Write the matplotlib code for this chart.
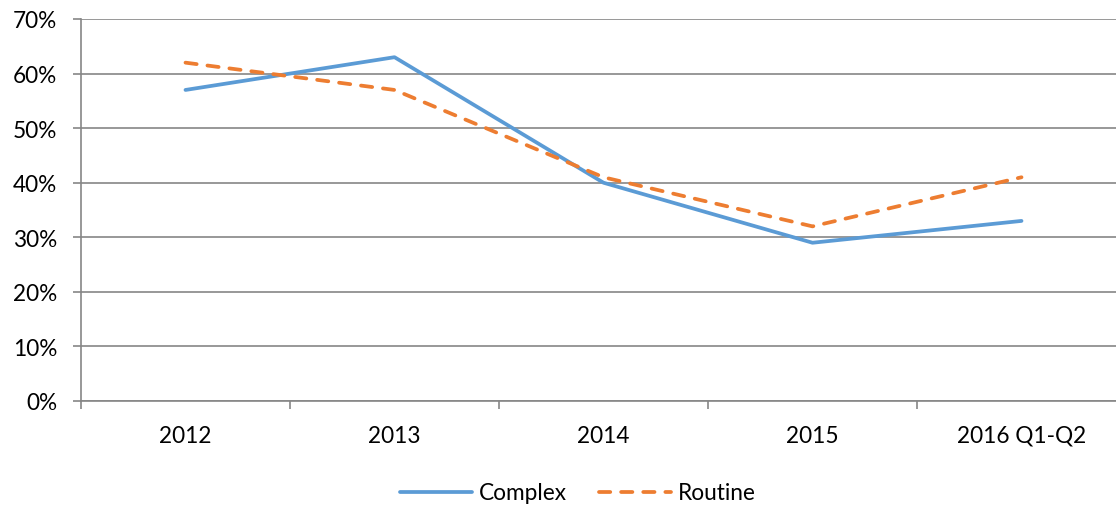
import matplotlib
matplotlib.use("Agg")
import matplotlib.pyplot as plt
from matplotlib.ticker import FixedLocator, PercentFormatter

plt.rcParams['font.family'] = ['Lato', 'DejaVu Sans']

YEARS = ["2012", "2013", "2014", "2015", "2016 Q1-Q2"]
COMPLEX = [57, 63, 40, 29, 33]
ROUTINE = [62, 57, 41, 32, 41]

BLUE = "#5B9BD5"
ORANGE = "#ED7D31"
GRID = "#868686"
FS = 16.3

fig = plt.figure(figsize=(11.16, 5.06), dpi=100)
# axes runs a bit past the right edge of the figure
ax = fig.add_axes([81 / 1116, 104 / 506, 1045 / 1116, 382 / 506])

x = list(range(len(YEARS)))
ax.plot(x, COMPLEX, color=BLUE, lw=2.7, solid_capstyle='round', label="Complex")
ax.plot(x, ROUTINE, color=ORANGE, lw=2.7, dashes=(3.0, 2.9),
        dash_capstyle='round', label="Routine")

ax.set_xlim(-0.5, len(YEARS) - 0.5)
ax.set_ylim(0, 70)

ax.yaxis.set_major_locator(FixedLocator(range(0, 71, 10)))
ax.yaxis.set_major_formatter(PercentFormatter(decimals=0))
ax.grid(axis='y', color=GRID, lw=1.2)
ax.set_axisbelow(True)

ax.set_xticks(x)
ax.set_xticklabels(YEARS)
ax.set_xticks([i - 0.5 for i in range(len(YEARS) + 1)], minor=True)
ax.tick_params(axis='x', which='major', length=0, pad=17, labelsize=FS)
ax.tick_params(axis='x', which='minor', length=6, width=1.2, color=GRID)
ax.tick_params(axis='y', length=6, width=1.2, color=GRID, pad=11, labelsize=FS)

for side in ['top', 'right']:
    ax.spines[side].set_visible(False)
for side in ['left', 'bottom']:
    ax.spines[side].set_color(GRID)
    ax.spines[side].set_linewidth(1.2)

fig.legend(loc='center', bbox_to_anchor=(578 / 1116, 1 - 494 / 506), ncol=2,
           frameon=False, fontsize=FS, handlelength=3.2, columnspacing=1.4,
           handletextpad=0.3, borderpad=0)

fig.savefig("out.png", dpi=100)
